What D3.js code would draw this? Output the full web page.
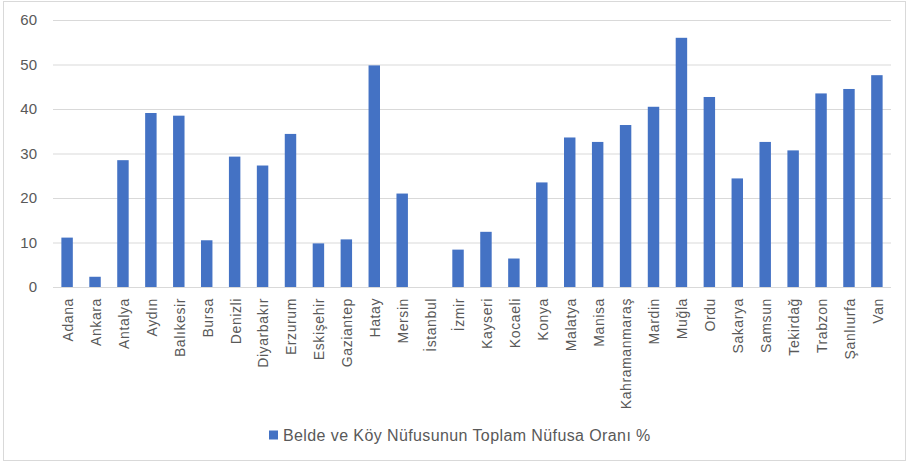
<html lang="tr">
<head>
    <meta charset="UTF-8">
    <script src="https://d3js.org/d3.v7.min.js"></script>
    <style>
        body { margin: 0; background: #fff; }
        text { font-family: "Liberation Sans", "DejaVu Sans", sans-serif; fill: #595959; }
    </style>
</head>
<body>
<script type="text/javascript">

    let cities = ["Adana", "Ankara", "Antalya", "Aydın", "Balıkesir", "Bursa", "Denizli", "Diyarbakır",
        "Erzurum", "Eskişehir", "Gaziantep", "Hatay", "Mersin", "İstanbul", "İzmir", "Kayseri", "Kocaeli",
        "Konya", "Malatya", "Manisa", "Kahramanmaraş", "Mardin", "Muğla", "Ordu", "Sakarya", "Samsun",
        "Tekirdağ", "Trabzon", "Şanlıurfa", "Van"];
    let ratios = [11.1, 2.3, 28.5, 39.1, 38.5, 10.5, 29.3, 27.3,
        34.4, 9.8, 10.7, 49.8, 21.0, 0, 8.4, 12.4, 6.4,
        23.5, 33.6, 32.6, 36.4, 40.5, 56.0, 42.7, 24.4, 32.6,
        30.7, 43.5, 44.5, 47.6];
    let yTicks = [0, 10, 20, 30, 40, 50, 60];
    let seriesName = "Belde ve Köy Nüfusunun Toplam Nüfusa Oranı %";

    let width = 910, height = 464;
    let margin = {top: 20, right: 19, bottom: 177, left: 53};

    let svg = d3.select("body").append("svg")
        .attr("width", width)
        .attr("height", height);

    // chart frame
    svg.append("rect")
        .attr("x", 3.5).attr("y", 1.5)
        .attr("width", width - 8).attr("height", height - 5)
        .attr("fill", "#fff").attr("stroke", "#d9d9d9");

    let x = d3.scaleBand()
        .domain(cities)
        .range([margin.left, width - margin.right])
        .paddingInner(0.59).paddingOuter(0.3);

    let y = d3.scaleLinear()
        .domain([0, 60])
        .range([height - margin.bottom, margin.top]);

    // gridlines
    svg.append("g")
        .selectAll("line")
        .data(yTicks)
        .join("line")
        .attr("x1", margin.left).attr("x2", width - margin.right)
        .attr("y1", d => y(d) + 0.5).attr("y2", d => y(d) + 0.5)
        .attr("stroke", "#d9d9d9").attr("stroke-width", 1);

    svg.append("g")
        .selectAll("text")
        .data(yTicks)
        .join("text")
        .attr("x", 37).attr("y", d => y(d))
        .attr("dy", "0.35em")
        .attr("text-anchor", "end")
        .attr("font-size", 15)
        .text(d => d);

    svg.append("g")
        .selectAll("rect")
        .data(ratios)
        .join("rect")
        .attr("x", (d, i) => x(cities[i]))
        .attr("y", d => y(d))
        .attr("width", x.bandwidth())
        .attr("height", d => y(0) - y(d))
        .attr("fill", "#4472c4");

    svg.append("g")
        .selectAll("text")
        .data(cities)
        .join("text")
        .attr("transform", d => `translate(${x(d) + x.bandwidth() / 2 + 1},${y(0) + 11}) rotate(-90)`)
        .attr("dy", "0.35em")
        .attr("text-anchor", "end")
        .attr("font-size", 14)
        .attr("letter-spacing", 0.6)
        .text(d => d);

    // legend
    let legend = svg.append("g").attr("transform", "translate(269,435)");
    legend.append("rect").attr("x", 0).attr("y", -4.5).attr("width", 9).attr("height", 9).attr("fill", "#4472c4");
    legend.append("text").attr("x", 14).attr("dy", "0.35em").attr("font-size", 16)
        .attr("letter-spacing", 0.4).text(seriesName);

</script>
</body>
</html>
